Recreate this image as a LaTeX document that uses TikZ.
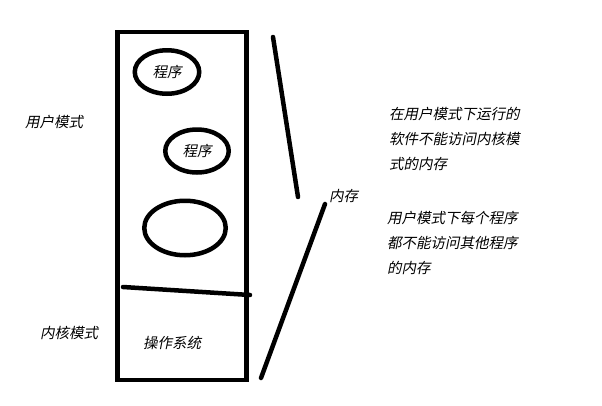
\documentclass[tikz,border=0pt]{standalone}
\usepackage{fontspec}
\newfontfamily\cjk[FakeSlant=0.2]{Noto Sans CJK SC}
\usetikzlibrary{shapes.geometric}

\tikzset{
  thick stroke/.style={line width=4.5pt,line cap=round,color=black},
  prog/.style={draw,ellipse,thick stroke,inner sep=0pt},
  label text/.style={font=\cjk\fontsize{14.5}{24.7}\selectfont,inner sep=0pt}
}

\begin{document}
\begin{tikzpicture}[x=1pt,y=-1pt]
\useasboundingbox (0,0) rectangle (602,405);

% memory column
\node[draw,thick stroke,line cap=butt,minimum width=129pt,minimum height=348pt,inner sep=0pt] (mem) at (182,206) {};
\draw[thick stroke] (123,287) -- (250,295);

\node[prog,minimum width=64.5pt,minimum height=43.5pt,label text] (p1) at (167,72) {程序};
\node[prog,minimum width=63.5pt,minimum height=43pt,label text] (p2) at (197,151) {程序};
\node[prog,minimum width=81.5pt,minimum height=54.5pt] (p3) at (185,228) {};

\node[label text] (os) at (172,343) {操作系统};

% mode labels
\node[label text,anchor=west] (user) at (25,122) {用户模式};
\node[label text,anchor=west] (kernel) at (40,333) {内核模式};

% brace lines
\draw[thick stroke] (273,37) -- (298,197);
\draw[thick stroke] (325,204) -- (261,378);
\node[label text,anchor=west] (ram) at (329,196) {内存};

% notes
\node[label text,align=left,anchor=north west] (note1) at (389,107.5)
  {在用户模式下运行的\\软件不能访问内核模\\式的内存};
\node[label text,align=left,anchor=north west] (note2) at (387,211.5)
  {用户模式下每个程序\\都不能访问其他程序\\的内存};

\end{tikzpicture}
\end{document}
